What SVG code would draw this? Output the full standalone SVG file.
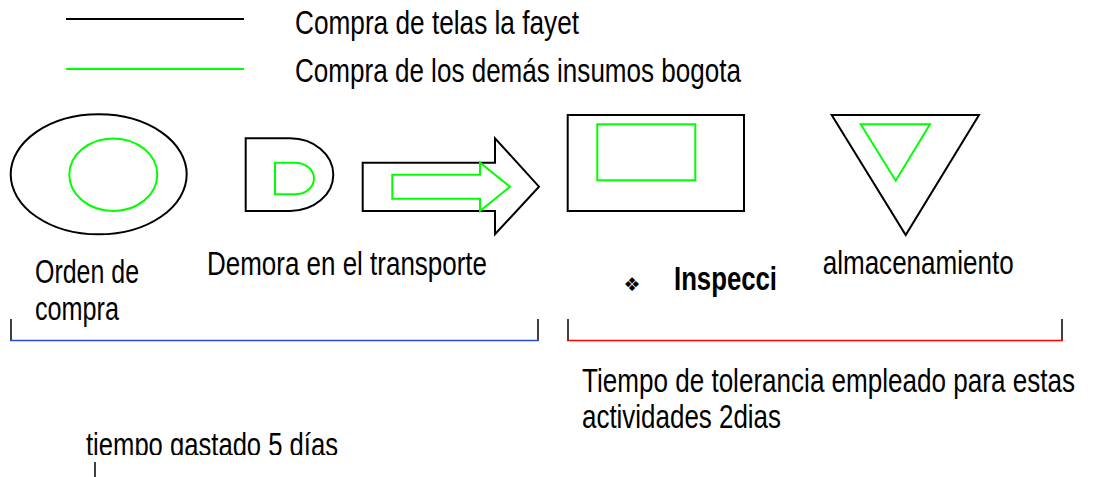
<svg xmlns="http://www.w3.org/2000/svg" width="1118" height="477" viewBox="0 0 1118 477">
<style>
  .bk { fill: none; stroke: #000; stroke-width: 2; }
  .gr { fill: none; stroke: #00ff00; stroke-width: 2; }
  .t { font-family: "Liberation Sans Narrow", "Liberation Sans", Arial, sans-serif; font-size: 33px; fill: #000; }
  .b { font-weight: bold; }
</style>
<defs>
  <clipPath id="clipBottom"><rect x="0" y="400" width="600" height="55"/></clipPath>
</defs>
<rect width="1118" height="477" fill="#fff"/>

<g id="legend">
  <line x1="66" y1="19" x2="244" y2="19" stroke="#000" stroke-width="2"/>
  <line x1="66" y1="69" x2="244" y2="69" stroke="#00ff00" stroke-width="2"/>
  <text class="t" x="295" y="34" textLength="284" lengthAdjust="spacingAndGlyphs">Compra de telas la fayet</text>
  <text class="t" x="295" y="82" textLength="446" lengthAdjust="spacingAndGlyphs">Compra de los demás insumos bogota</text>
</g>

<g id="orden-de-compra">
  <ellipse class="bk" cx="98.7" cy="174.3" rx="88" ry="60"/>
  <ellipse class="gr" cx="113.3" cy="174.7" rx="44" ry="36.3"/>
  <text class="t" x="35" y="283" textLength="104" lengthAdjust="spacingAndGlyphs">Orden de</text>
  <text class="t" x="35" y="320" textLength="84" lengthAdjust="spacingAndGlyphs">compra</text>
</g>

<g id="demora">
  <path class="bk" d="M245.7,138.3 H290 A43.3,36.35 0 0 1 290,211 H245.7 Z"/>
  <path class="gr" d="M275,162.7 H295 A19,15.8 0 0 1 295,194.3 H275 Z"/>
  <text class="t" x="207" y="275" textLength="280" lengthAdjust="spacingAndGlyphs">Demora en el transporte</text>
</g>

<g id="transporte">
  <path class="bk" d="M362.7,162.7 H495 V138.3 L539,186.7 L495,234.3 V211 H362.7 Z"/>
  <path class="gr" d="M392.3,174.7 H480 V162.7 L510,186.7 L480,211 V198.7 H392.3 Z"/>
</g>

<g id="inspeccion">
  <rect class="bk" x="567.7" y="115" width="176.3" height="96"/>
  <rect class="gr" x="597.3" y="124.3" width="98" height="56"/>
  <text x="632" y="291" text-anchor="middle" font-family="DejaVu Sans, sans-serif" font-size="19" fill="#000">❖</text>
  <text class="t b" x="674" y="290" textLength="103" lengthAdjust="spacingAndGlyphs">Inspecci</text>
</g>

<g id="almacenamiento">
  <path class="bk" d="M831.7,115 H979 L905.7,235 Z"/>
  <path class="gr" d="M860.7,124.3 H930 L895.7,180.7 Z"/>
  <text class="t" x="822.7" y="274" textLength="191" lengthAdjust="spacingAndGlyphs">almacenamiento</text>
</g>

<g id="connectors">
  <line x1="11" y1="319" x2="11" y2="341" stroke="#000" stroke-width="1.5"/>
  <line x1="538" y1="319" x2="538" y2="341" stroke="#000" stroke-width="1.5"/>
  <line x1="10" y1="340.5" x2="539" y2="340.5" stroke="#2a4bd7" stroke-width="1.5"/>
  <line x1="568" y1="319" x2="568" y2="341" stroke="#000" stroke-width="1.5"/>
  <line x1="1062" y1="319" x2="1062" y2="341" stroke="#000" stroke-width="1.5"/>
  <line x1="567" y1="340.5" x2="1063" y2="340.5" stroke="#ff0000" stroke-width="1.5"/>
  <line x1="95" y1="462" x2="95" y2="477" stroke="#000" stroke-width="1.5"/>
</g>

<g id="notes">
  <text class="t" x="582" y="392" textLength="493" lengthAdjust="spacingAndGlyphs">Tiempo de tolerancia empleado para estas</text>
  <text class="t" x="582" y="428" textLength="199" lengthAdjust="spacingAndGlyphs">actividades 2dias</text>
  <text class="t" x="86" y="456" textLength="252" lengthAdjust="spacingAndGlyphs" clip-path="url(#clipBottom)">tiempo gastado 5 días</text>
</g>
</svg>
